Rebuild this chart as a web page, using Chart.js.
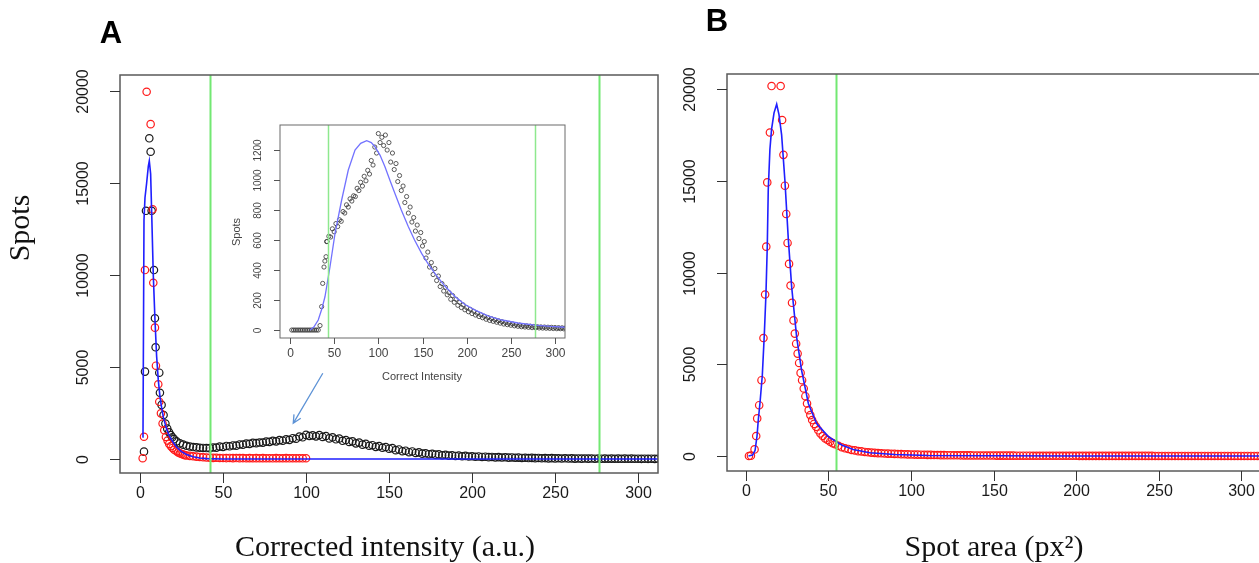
<!DOCTYPE html>
<html>
<head>
<meta charset="utf-8" />
<style>
    body { margin: 0; background: #ffffff; }
    #page { position: relative; width: 1259px; height: 563px; overflow: hidden; background: #ffffff; }
    #page canvas { position: absolute; }
</style>
</head>
<body>
<div id="page">
    <canvas id="chartA" width="670" height="563" style="left:0px; top:0px;"></canvas>
    <canvas id="chartB" width="600" height="563" style="left:670px; top:0px;"></canvas>
    <canvas id="chartInset" width="345" height="280" style="left:228px; top:112px;"></canvas>
</div>
<script src="https://cdn.jsdelivr.net/npm/chart.js"></script>
<script>
// ---------- Panel A : corrected intensity ----------
// black circles, first peak then the wide second bump (x = intensity, y = spots)
var blackHeadX = [2.4, 3.0, 3.6, 5.6, 6.4, 7.0, 8.4, 9.0, 9.4, 11.6, 12.0, 13.0, 14.2, 15.3, 16.4, 17.5, 18.5, 19.5, 20.5, 22, 24, 26, 28, 30, 32, 34, 36, 38, 40];
var blackHeadY = [400, 4750, 13490, 17430, 16700, 13490, 10270, 7650, 6070, 4690, 3600, 2940, 2390, 1930, 1650, 1450, 1300, 1180, 1080, 960, 850, 780, 720, 680, 650, 630, 610, 600, 595];
// rest of the black series, one value every 2 units from x = 42
var blackTailStart = 42, blackTailStep = 2;
var blackTailY = [590, 625, 620, 675, 655, 710, 690, 735, 725, 790,
    780, 835, 820, 875, 860, 895, 890, 945, 930, 985,
    960, 1025, 995, 1065, 1040, 1130, 1100, 1220, 1180, 1310,
    1250, 1285, 1230, 1300, 1200, 1250, 1120, 1180, 1070, 1110,
    990, 1030, 930, 960, 850, 890, 780, 820, 720, 750,
    660, 700, 610, 650, 560, 590, 480, 520, 420, 450,
    370, 410, 330, 360, 290, 310, 260, 285, 235, 250,
    205, 230, 185, 205, 165, 185, 150, 168, 135, 150,
    122, 138, 110, 125, 100, 112, 90, 102, 82, 92,
    72, 84, 64, 76, 58, 68, 52, 62, 46, 56,
    40, 50, 36, 45, 32, 41, 28, 37, 25, 33,
    22, 30, 20, 28, 18, 26, 16, 24, 15, 22,
    14, 21, 13, 20, 12, 19, 11, 18, 10, 17,
    9, 16, 9, 15, 8, 14];

// red circles
var redHeadX = [1.6, 2.4, 3.0, 4.0, 6.4, 7.6, 8.0, 9.0, 9.6, 11.0, 11.6, 12.6, 13.6, 14.6, 15.6, 16.6, 17.6, 18.6, 19.6, 20.6, 22, 23, 24, 25, 26, 27, 28, 30, 32, 34, 36, 38, 40];
var redHeadY = [40, 1210, 10270, 19960, 18200, 13570, 9580, 7140, 5070, 4060, 3110, 2480, 1930, 1560, 1200, 1000, 820, 700, 600, 500, 420, 360, 310, 270, 240, 210, 190, 170, 150, 130, 110, 95, 80];
var redTailStart = 42, redTailStep = 2;
var redTailY = [70, 62, 66, 55, 58, 50, 56, 48, 52, 45, 50, 42, 48, 44, 46, 40, 47, 42, 44, 38, 45, 40, 42, 46, 38, 43, 40, 44, 38, 42];

// blue fitted line
var fitAX = [1.4, 1.8, 2.4, 3.0, 4.0, 5.0, 5.6, 6.4, 7.0, 8.0, 9.0, 10.0, 11.0, 12.0, 13.0, 14.0, 15.0, 16.0, 17.0, 18.0, 20.0, 22.0, 25.0, 28.0, 32.0, 36.0, 40.0, 50, 100, 200, 312];
var fitAY = [1200, 1300, 13000, 14200, 15000, 15900, 16200, 15500, 13500, 10000, 7600, 5600, 4300, 3400, 2800, 2300, 1950, 1650, 1400, 1200, 900, 650, 400, 250, 120, 50, 20, 0, 0, 0, 0];

var cutoffsA = [42.3, 276.5];
var arrowA = [110.1, 4658, 92.3, 1940];   // from (x, y) to (x, y)

// ---------- Inset : correct intensity ----------
var insetHeadX = [2, 4, 6, 8, 10, 12, 14, 16, 18, 20, 22, 24, 26, 28, 30, 32, 34, 35.8, 37, 38.5, 39.5, 40.8, 41.5];
var insetHeadY = [0, 0, 0, 0, 0, 0, 0, 0, 0, 0, 0, 0, 0, 0, 0, 0, 30, 156, 311, 420, 460, 489, 590];
var insetFitX = [22.6, 27, 32, 36, 39.6, 45.3, 51, 58.5, 66, 73.6, 80, 86.8, 92, 96.2, 102, 107.5, 113, 118.8, 126, 134, 141, 149, 156, 164, 175, 187, 198, 209.5, 224, 239.7, 258, 277, 295, 313];
var insetFitY = [0, 20, 67, 140, 222, 422, 644, 867, 1067, 1200, 1245, 1262, 1250, 1222, 1165, 1089, 1000, 911, 800, 689, 600, 511, 445, 378, 295, 222, 170, 133, 95, 67, 47, 33, 24, 18];
var cutoffsInset = [43, 277];

// ---------- Panel B : spot area ----------
var areaHeadX = [1.8, 3.0, 5.2, 6.2, 6.8, 8.0, 9.4, 10.6, 11.6, 12.3, 12.9, 14.5, 15.5, 21.0, 21.9, 22.7, 23.6, 24.4, 25.2, 26.1, 27.0, 27.9, 28.8, 29.6, 30.4, 31.3, 32.2, 33.1, 34.0, 35.0, 36.0, 37.0, 38.0, 39.0, 40.1, 41.3, 42.5, 43.8, 45.1, 46.5, 48.0, 49.5, 51.0, 52.5, 54.0, 56.0, 58.0];
var areaHeadY = [0, 20, 360, 1090, 2050, 2770, 4130, 6430, 8800, 11410, 14910, 17630, 20160, 20160, 18310, 16410, 14730, 13190, 11610, 10470, 9290, 8350, 7390, 6670, 6120, 5580, 5070, 4530, 4130, 3680, 3260, 2860, 2500, 2230, 1960, 1750, 1590, 1400, 1230, 1090, 960, 870, 780, 700, 640, 560, 480];
var areaTailStart = 60, areaTailStep = 2;
var areaTailY = [420, 385, 330, 305, 265, 250, 220, 205, 185, 172,
    158, 150, 138, 130, 122, 115, 108, 100, 96, 90,
    85, 78, 76, 70, 68, 62, 60, 56, 54, 50,
    48, 45, 44, 40, 40, 37, 36, 34, 33, 31,
    30, 28, 28, 26, 25, 24, 23, 22, 22, 20,
    20, 19, 18, 18, 17, 16, 16, 15, 15, 14,
    14, 13, 13, 12, 12, 12, 11, 11, 10, 10,
    10, 9, 9, 9, 8, 8, 8, 8, 7, 7,
    7, 7, 6, 6, 6, 6, 6, 5, 5, 5,
    5, 5, 5, 5, 4, 4, 4, 4, 4, 4,
    4, 4, 3, 3, 3, 3, 3, 3, 3, 3,
    3, 3, 3, 2, 2, 2, 2, 2, 2, 2,
    2, 2, 2, 2, 2, 2, 2];
var fitBX = [1.5, 4.0, 5.5, 6.7, 7.5, 8.5, 9.9, 11.1, 12.1, 12.9, 13.5, 14.5, 15.5, 17.0, 18.6, 20.0, 21.6, 23.6, 25.6, 27.7, 30.7, 33.7, 37.8, 42.8, 49.9, 58, 65, 75, 90, 110, 150, 200, 312];
var fitBY = [0, 50, 300, 1100, 2000, 2900, 4400, 6600, 8800, 11400, 14500, 16700, 17800, 18700, 19170, 18600, 17500, 15000, 11900, 9200, 6480, 4670, 2860, 1770, 1060, 600, 350, 180, 80, 30, 10, 0, 0];
var cutoffsB = [54.4];

// tick labels
var ticksX = [0, 50, 100, 150, 200, 250, 300];
var ticksMainY = [0, 5000, 10000, 15000, 20000];
var ticksInsetY = [0, 200, 400, 600, 800, 1000, 1200];

// juntar x e y en puntos para Chart.js
function toPoints(xs, ys) {
    var pts = [];
    for (var i = 0; i < ys.length; i++) pts.push({ x: xs[i], y: ys[i] });
    return pts;
}
function stepPoints(start, step, ys) {
    var pts = [];
    for (var i = 0; i < ys.length; i++) pts.push({ x: start + i * step, y: ys[i] });
    return pts;
}

function circles(pts, color, r, w) {
    return {
        data: pts, showLine: false, pointStyle: 'circle',
        pointRadius: r, pointBorderWidth: w,
        pointBorderColor: color, pointBackgroundColor: 'rgba(0,0,0,0)', borderColor: color
    };
}
function fitLine(pts, color, w) {
    return {
        data: pts, showLine: true, pointRadius: 0, borderColor: color,
        borderWidth: w, tension: 0, fill: false
    };
}

function rotText(ctx, text, x, y) {
    ctx.save();
    ctx.translate(x, y);
    ctx.rotate(-Math.PI / 2);
    ctx.textAlign = 'center';
    ctx.textBaseline = 'middle';
    ctx.fillText(text, 0, 0);
    ctx.restore();
}

// dibuja caja, ticks, etiquetas y lineas verdes estilo R
function rAxes(d) {
    return {
        id: 'rAxes',
        afterDatasetsDraw: function (chart) {
            var ctx = chart.ctx, a = chart.chartArea;
            var sx = chart.scales.x, sy = chart.scales.y;

            ctx.save();
            ctx.beginPath();
            ctx.rect(a.left, a.top, a.right - a.left, a.bottom - a.top);
            ctx.clip();
            ctx.strokeStyle = d.green;
            ctx.lineWidth = d.greenWidth;
            d.cutoffs.forEach(function (v) {
                var px = Math.round(sx.getPixelForValue(v)) + 0.5;
                ctx.beginPath();
                ctx.moveTo(px, a.top);
                ctx.lineTo(px, a.bottom);
                ctx.stroke();
            });
            ctx.restore();

            ctx.save();
            ctx.strokeStyle = d.box;
            ctx.lineWidth = d.boxWidth;
            ctx.strokeRect(a.left, a.top, a.right - a.left, a.bottom - a.top);

            // ticks
            ctx.strokeStyle = d.tickColor;
            ctx.lineWidth = 1;
            ctx.fillStyle = d.textColor;
            ctx.font = d.xTickFont;
            ctx.textAlign = 'center';
            ctx.textBaseline = 'middle';
            d.xTicks.forEach(function (v) {
                var px = Math.round(sx.getPixelForValue(v)) + 0.5;
                ctx.beginPath();
                ctx.moveTo(px, a.bottom);
                ctx.lineTo(px, a.bottom + d.tickLen);
                ctx.stroke();
                ctx.fillText(String(v), px, a.bottom + d.xLabelGap);
            });
            ctx.font = d.yTickFont;
            d.yTicks.forEach(function (v) {
                var py = Math.round(sy.getPixelForValue(v)) + 0.5;
                ctx.beginPath();
                ctx.moveTo(a.left - d.tickLen, py);
                ctx.lineTo(a.left, py);
                ctx.stroke();
                rotText(ctx, String(v), a.left - d.yLabelGap, py);
            });

            // titulos de ejes
            ctx.fillStyle = d.titleColor;
            ctx.font = d.titleFont;
            ctx.textAlign = 'center';
            ctx.textBaseline = 'middle';
            ctx.fillText(d.xTitle, (a.left + a.right) / 2 + d.xTitleShift, a.bottom + d.xTitleGap);
            if (d.yTitle) rotText(ctx, d.yTitle, d.yTitleAt[0], d.yTitleAt[1]);

            if (d.panel) {
                ctx.fillStyle = '#000000';
                ctx.font = d.panelFont;
                ctx.fillText(d.panel, d.panelAt[0], d.panelAt[1]);
            }

            if (d.arrow) {
                var x1 = sx.getPixelForValue(d.arrow[0]), y1 = sy.getPixelForValue(d.arrow[1]);
                var x2 = sx.getPixelForValue(d.arrow[2]), y2 = sy.getPixelForValue(d.arrow[3]);
                var ang = Math.atan2(y2 - y1, x2 - x1);
                ctx.strokeStyle = d.arrowColor;
                ctx.lineWidth = 1.3;
                ctx.beginPath();
                ctx.moveTo(x1, y1);
                ctx.lineTo(x2, y2);
                ctx.moveTo(x2 + 9 * Math.cos(ang + Math.PI - 0.45), y2 + 9 * Math.sin(ang + Math.PI - 0.45));
                ctx.lineTo(x2, y2);
                ctx.lineTo(x2 + 9 * Math.cos(ang + Math.PI + 0.45), y2 + 9 * Math.sin(ang + Math.PI + 0.45));
                ctx.stroke();
            }
            ctx.restore();
        }
    };
}

function makeChart(id, datasets, padding, xr, yr, deco) {
    return new Chart(document.getElementById(id), {
        type: 'scatter',
        data: { datasets: datasets },
        options: {
            responsive: false,
            animation: false,
            devicePixelRatio: 1,
            events: [],
            layout: { padding: padding },
            plugins: { legend: { display: false }, tooltip: { enabled: false } },
            scales: {
                x: { type: 'linear', display: false, min: xr[0], max: xr[1] },
                y: { type: 'linear', display: false, min: yr[0], max: yr[1] }
            }
        },
        plugins: [rAxes(deco)]
    });
}

var mainFont = '16px "Liberation Sans", Arial, sans-serif';
var serifFont = '30px "Liberation Serif", "Times New Roman", serif';
var panelFont = 'bold 31px "Liberation Sans", Arial, sans-serif';

// grafica A
makeChart('chartA', [
    fitLine(toPoints(fitAX, fitAY), '#1f1fff', 1.6),
    circles(toPoints(redHeadX, redHeadY).concat(stepPoints(redTailStart, redTailStep, redTailY)), '#ff1a1a', 3.7, 1.2),
    circles(toPoints(blackHeadX, blackHeadY).concat(stepPoints(blackTailStart, blackTailStep, blackTailY)), '#1a1a1a', 3.7, 1.2)
], { left: 120, top: 75, right: 12, bottom: 90 }, [-12.05, 312], [-761, 20870], {
    cutoffs: cutoffsA, green: '#72e872', greenWidth: 2,
    box: '#5a5a5a', boxWidth: 1.5, tickColor: '#333333', textColor: '#1a1a1a',
    xTicks: ticksX, yTicks: ticksMainY, tickLen: 10,
    xTickFont: mainFont, yTickFont: mainFont, xLabelGap: 21, yLabelGap: 36,
    xTitle: 'Corrected intensity (a.u.)', xTitleShift: -4, xTitleGap: 75,
    titleFont: serifFont, titleColor: '#111111',
    yTitle: 'Spots', yTitleAt: [21, 228],
    panel: 'A', panelAt: [111, 34], panelFont: panelFont,
    arrow: arrowA, arrowColor: '#5e93d6'
});

// grafica B
makeChart('chartB', [
    fitLine(toPoints(fitBX, fitBY), '#1f1fff', 1.6),
    circles(toPoints(areaHeadX, areaHeadY).concat(stepPoints(areaTailStart, areaTailStep, areaTailY)), '#ff1a1a', 3.7, 1.2)
], { left: 57, top: 74, right: 9, bottom: 92 }, [-11.5, 312.1], [-817, 20817], {
    cutoffs: cutoffsB, green: '#72e872', greenWidth: 2,
    box: '#5a5a5a', boxWidth: 1.5, tickColor: '#333333', textColor: '#1a1a1a',
    xTicks: ticksX, yTicks: ticksMainY, tickLen: 10,
    xTickFont: mainFont, yTickFont: mainFont, xLabelGap: 21, yLabelGap: 36,
    xTitle: 'Spot area (px\u00b2)', xTitleShift: 0, xTitleGap: 77,
    titleFont: serifFont, titleColor: '#111111',
    panel: 'B', panelAt: [47, 22], panelFont: panelFont
});

// grafica insertada
makeChart('chartInset', [
    fitLine(toPoints(insetFitX, insetFitY), '#7272ff', 1.3),
    circles(toPoints(insetHeadX, insetHeadY).concat(stepPoints(blackTailStart, blackTailStep, blackTailY)), '#333333', 2.1, 0.8)
], { left: 52, top: 13, right: 8, bottom: 54 }, [-11.3, 311.3], [-53, 1367], {
    cutoffs: cutoffsInset, green: '#8ee88e', greenWidth: 1.5,
    box: '#6a6a6a', boxWidth: 1, tickColor: '#555555', textColor: '#444444',
    xTicks: ticksX, yTicks: ticksInsetY, tickLen: 6,
    xTickFont: '12px "Liberation Sans", Arial, sans-serif',
    yTickFont: '10px "Liberation Sans", Arial, sans-serif',
    xLabelGap: 16, yLabelGap: 21.5,
    xTitle: 'Correct Intensity', xTitleShift: -0.5, xTitleGap: 39,
    titleFont: '11px "Liberation Sans", Arial, sans-serif', titleColor: '#444444',
    yTitle: 'Spots', yTitleAt: [9, 120]
});
</script>
</body>
</html>
